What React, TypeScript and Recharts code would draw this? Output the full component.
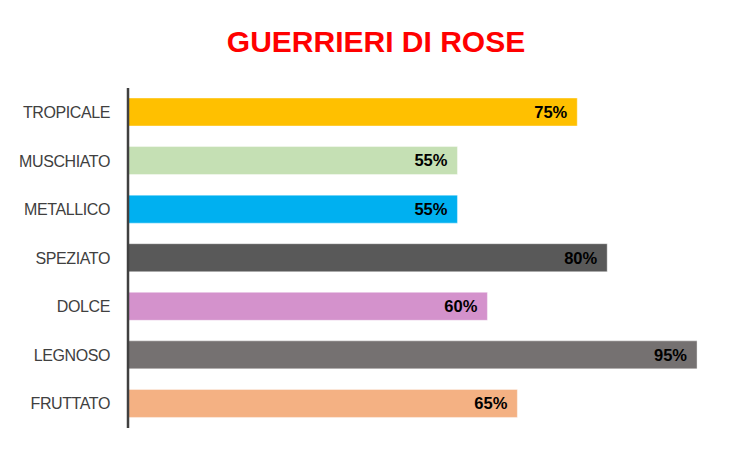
import { BarChart, Bar, XAxis, YAxis, LabelList, Cell } from "recharts"

// Aromi, dall'alto verso il basso
const aromi = ["TROPICALE", "MUSCHIATO", "METALLICO", "SPEZIATO", "DOLCE", "LEGNOSO", "FRUTTATO"]
const percentuali = [75, 55, 55, 80, 60, 95, 65]
const barColors = ["#FFC000", "#C5E0B4", "#00B0F0", "#595959", "#D492CC", "#757171", "#F4B183"]

const data = aromi.map((nome, i) => ({ nome, valore: percentuali[i] }))

export default function App() {
  return (
    <div
      style={{
        position: "absolute",
        left: 0,
        top: 0,
        width: 752,
        height: 452,
        background: "#fff",
        fontFamily: "'Liberation Sans', Arial, sans-serif",
      }}
    >
      <div
        style={{
          position: "absolute",
          top: 27,
          left: 0,
          width: 752,
          textAlign: "center",
          fontSize: 30,
          lineHeight: "30px",
          fontWeight: "bold",
          color: "#FF0000",
        }}
      >
        GUERRIERI DI ROSE
      </div>
      <BarChart
        width={752}
        height={452}
        data={data}
        layout="vertical"
        margin={{ top: 88, right: 25, bottom: 24, left: 0 }}
      >
        <XAxis type="number" domain={[0, 100]} hide />
        <YAxis
          type="category"
          dataKey="nome"
          width={128}
          tickLine={false}
          tickSize={8}
          tickMargin={10}
          axisLine={{ stroke: "#404040", strokeWidth: 2.5 }}
          tick={{
            fill: "#404040",
            fontSize: 16,
            letterSpacing: -0.4,
            fontFamily: "'Liberation Sans', Arial, sans-serif",
          }}
        />
        <Bar
          dataKey="valore"
          barSize={28}
          stroke="#ffffff"
          strokeOpacity={0.4}
          strokeWidth={1}
          isAnimationActive={false}
        >
          {data.map((d, i) => (
            <Cell key={d.nome} fill={barColors[i]} />
          ))}
          <LabelList
            dataKey="valore"
            position="insideRight"
            offset={10}
            formatter={(v: number) => `${v}%`}
            style={{
              fill: "#000",
              fontSize: 16.5,
              fontWeight: "bold",
              fontFamily: "'Liberation Sans', Arial, sans-serif",
            }}
          />
        </Bar>
      </BarChart>
    </div>
  )
}
